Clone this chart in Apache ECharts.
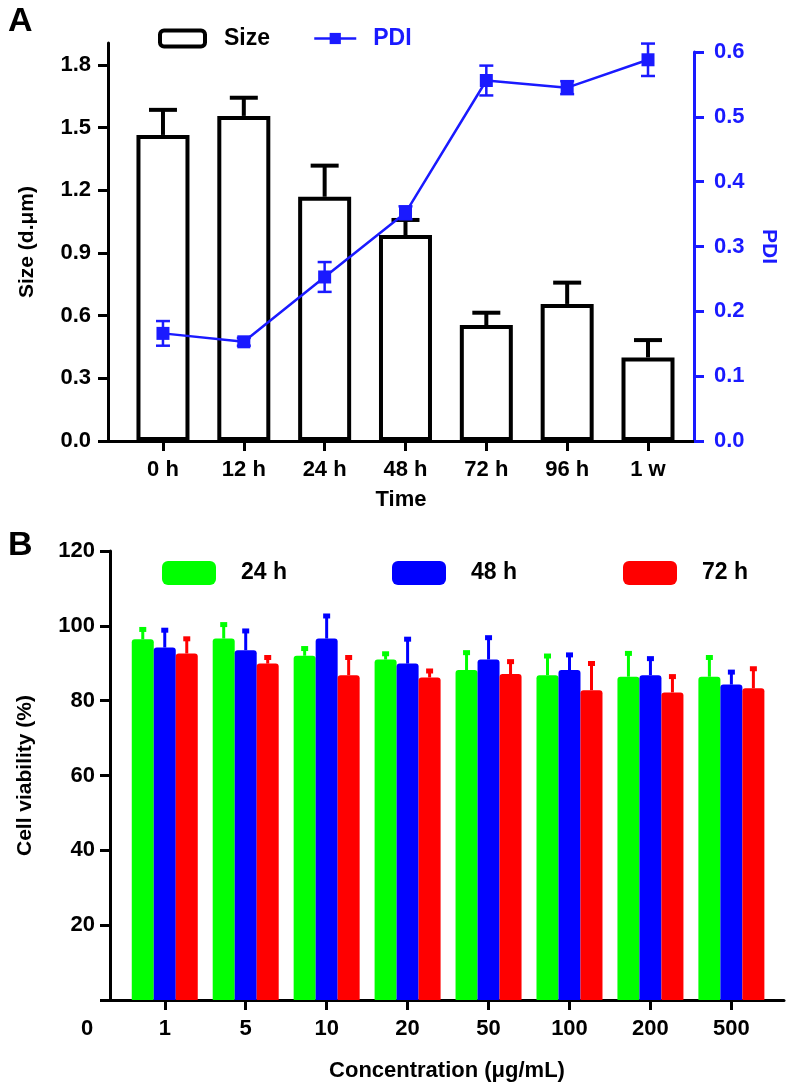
<!DOCTYPE html>
<html><head><meta charset="utf-8">
<script src="https://cdn.jsdelivr.net/npm/echarts@6/dist/echarts.min.js"></script>
<style>html,body{margin:0;padding:0;background:#fff}#c{width:790px;height:1088px}</style>
</head><body><div id="c"></div>
<script>
// ---- Panel A data ----
const timeLabels = ['0 h', '12 h', '24 h', '48 h', '72 h', '96 h', '1 w'];
const sizeValues = [1.465, 1.556, 1.169, 0.986, 0.555, 0.656, 0.400];
const sizeErrors = [0.120, 0.087, 0.149, 0.072, 0.059, 0.102, 0.083];
const pdiValues = [0.166, 0.153, 0.253, 0.352, 0.556, 0.545, 0.588];
const pdiErrors = [0.019, 0.006, 0.023, 0.010, 0.023, 0.010, 0.025];
const sizeTicks = [0, 0.3, 0.6, 0.9, 1.2, 1.5, 1.8];
// ---- Panel B data ----
const concTickLabels = ['0', '1', '5', '10', '20', '50', '100', '200', '500'];
const via24 = [96.4, 96.6, 92.0, 91.0, 88.2, 86.8, 86.4, 86.4];
const err24 = [3.3, 4.4, 2.6, 2.2, 5.3, 5.8, 6.9, 5.8];
const via48 = [94.2, 93.5, 96.6, 89.9, 91.0, 88.2, 86.8, 84.3];
const err48 = [5.3, 5.8, 6.7, 7.2, 6.5, 4.7, 5.1, 4.0];
const via72 = [92.6, 89.9, 86.8, 86.2, 87.1, 82.8, 82.2, 83.3];
const err72 = [4.6, 2.3, 5.4, 2.4, 4.0, 7.8, 4.9, 5.9];

const FONT = 'Liberation Sans, Arial, sans-serif';
const BLUE_A = '#1a1aff';
const GREEN = '#00ff00', BLUE = '#0000ff', RED = '#ff0000';
const txt = (size, color) => ({fontFamily: FONT, fontWeight: 'bold', fontSize: size, color: color || '#000'});

const idx = timeLabels.map((_, i) => i);
const cIdx = via24.map((_, i) => i + 1);

function sizeErr(params, api) {
  const x = api.value(0), y = api.value(1), e = api.value(2);
  const p0 = api.coord([x, y]), p1 = api.coord([x, y + e]);
  const hw = 14;
  return {type: 'group', children: [
    {type: 'line', shape: {x1: p0[0], y1: p0[1], x2: p1[0], y2: p1[1]}, style: {stroke: '#000', lineWidth: 4}},
    {type: 'line', shape: {x1: p1[0] - hw, y1: p1[1], x2: p1[0] + hw, y2: p1[1]}, style: {stroke: '#000', lineWidth: 4}}
  ]};
}
function pdiErr(params, api) {
  const x = api.value(0), y = api.value(1), e = api.value(2);
  const pt = api.coord([x, y + e]), pb = api.coord([x, y - e]);
  const hw = 7;
  return {type: 'group', children: [
    {type: 'line', shape: {x1: pt[0], y1: pt[1], x2: pb[0], y2: pb[1]}, style: {stroke: BLUE_A, lineWidth: 2.5}},
    {type: 'line', shape: {x1: pt[0] - hw, y1: pt[1], x2: pt[0] + hw, y2: pt[1]}, style: {stroke: BLUE_A, lineWidth: 2.5}},
    {type: 'line', shape: {x1: pb[0] - hw, y1: pb[1], x2: pb[0] + hw, y2: pb[1]}, style: {stroke: BLUE_A, lineWidth: 2.5}}
  ]};
}
function makeVErr(color, offset) {
  return function (params, api) {
    const x = api.value(0), y = api.value(1), e = api.value(2);
    const p0 = api.coord([x, y]), p1 = api.coord([x, y + e]);
    const cx = p0[0] + offset;
    return {type: 'group', children: [
      {type: 'line', shape: {x1: cx, y1: p0[1], x2: cx, y2: p1[1] + 2}, style: {stroke: color, lineWidth: 3}},
      {type: 'rect', shape: {x: cx - 3.5, y: p1[1], width: 7, height: 5}, style: {fill: color}}
    ]};
  };
}

const axisLineBlack = {show: true, onZero: false, lineStyle: {color: '#000', width: 3}};
const tickBlack = {show: true, length: 10, lineStyle: {color: '#000', width: 3}};

const option = {
  backgroundColor: '#fff',
  animation: false,
  title: [
    {text: 'A', left: 3, top: 0, textStyle: txt(34)},
    {text: 'B', left: 3, top: 524, textStyle: txt(34)}
  ],
  legend: [
    {data: ['Size'], left: 158, top: 27, padding: 0, icon: 'roundRect', itemWidth: 45, itemHeight: 16,
     itemStyle: {color: '#fff', borderColor: '#000', borderWidth: 4},
     textStyle: Object.assign(txt(23), {padding: [0, 0, 0, 14]})},
    {data: ['PDI'], left: 313, top: 27, padding: 0, itemWidth: 42, itemHeight: 14,
     lineStyle: {width: 2.5, color: BLUE_A}, itemStyle: {color: BLUE_A},
     textStyle: Object.assign(txt(23, BLUE_A), {padding: [0, 0, 0, 12]})},
    {data: ['24 h'], left: 162, top: 561, padding: 0, icon: 'roundRect', itemWidth: 54, itemHeight: 24,
     textStyle: Object.assign(txt(23), {padding: [0, 0, 0, 20]})},
    {data: ['48 h'], left: 392, top: 561, padding: 0, icon: 'roundRect', itemWidth: 54, itemHeight: 24,
     textStyle: Object.assign(txt(23), {padding: [0, 0, 0, 20]})},
    {data: ['72 h'], left: 623, top: 561, padding: 0, icon: 'roundRect', itemWidth: 54, itemHeight: 24,
     textStyle: Object.assign(txt(23), {padding: [0, 0, 0, 20]})}
  ],
  grid: [
    {left: 108, right: 96, top: 43, bottom: 647},
    {left: 108, right: 96, top: 52, bottom: 647},
    {left: 110, right: 6, top: 551, bottom: 88},
    {left: 77, width: 20, top: 551, bottom: 88}
  ],
  xAxis: [
    {gridIndex: 0, type: 'value', min: -0.680, max: 6.569,
     axisLine: axisLineBlack, axisTick: Object.assign({customValues: idx}, tickBlack),
     axisLabel: Object.assign({customValues: idx, margin: 18, formatter: v => timeLabels[v]}, txt(22)),
     splitLine: {show: false},
     name: 'Time', nameLocation: 'middle', nameGap: 48, nameTextStyle: txt(22)},
    {gridIndex: 1, type: 'value', min: -0.680, max: 6.569, show: false, axisLine: {onZero: false}},
    {gridIndex: 2, type: 'value', min: 0.3235, max: 8.65,
     axisLine: axisLineBlack, axisTick: Object.assign({customValues: cIdx}, tickBlack),
     axisLabel: Object.assign({customValues: cIdx, margin: 18, formatter: v => concTickLabels[v]}, txt(22)),
     splitLine: {show: false},
     name: 'Concentration (μg/mL)', nameLocation: 'middle', nameGap: 60, nameTextStyle: txt(22)},
    {gridIndex: 3, type: 'value', min: -0.5, max: 0.5,
     axisLine: {show: false, onZero: false}, axisTick: {show: false}, splitLine: {show: false},
     axisLabel: Object.assign({customValues: [0], margin: 18, formatter: v => concTickLabels[v]}, txt(22))}
  ],
  yAxis: [
    {gridIndex: 0, type: 'value', min: 0, max: 1.905,
     axisLine: axisLineBlack, axisTick: Object.assign({customValues: sizeTicks}, tickBlack),
     axisLabel: Object.assign({customValues: sizeTicks, margin: 17, formatter: v => v.toFixed(1)}, txt(22)),
     splitLine: {show: false},
     name: 'Size (d.μm)', nameLocation: 'middle', nameGap: 70, nameRotate: 90, nameTextStyle: txt(21)},
    {gridIndex: 1, type: 'value', position: 'right', min: 0, max: 0.6, interval: 0.1,
     axisLine: {show: true, onZero: false, lineStyle: {color: BLUE_A, width: 3}},
     axisTick: {show: true, length: 10, lineStyle: {color: BLUE_A, width: 3}},
     axisLabel: Object.assign({margin: 20, formatter: v => v.toFixed(1)}, txt(22, BLUE_A)),
     splitLine: {show: false},
     name: 'PDI', nameLocation: 'middle', nameGap: 64, nameRotate: -90, nameTextStyle: txt(21, BLUE_A)},
    {gridIndex: 2, type: 'value', min: 0, max: 120, interval: 20,
     axisLine: axisLineBlack, axisTick: tickBlack,
     axisLabel: Object.assign({margin: 15, formatter: v => v === 0 ? '' : String(v)}, txt(22)),
     splitLine: {show: false},
     name: 'Cell viability (%)', nameLocation: 'middle', nameGap: 74, nameRotate: 90, nameTextStyle: txt(21)},
    {gridIndex: 3, type: 'value', min: 0, max: 120, show: false, axisLine: {onZero: false}}
  ],
  series: [
    {name: 'Size', type: 'bar', xAxisIndex: 0, yAxisIndex: 0, barWidth: 53,
     itemStyle: {color: '#fff', borderColor: '#000', borderWidth: 4},
     data: sizeValues.map((v, i) => [i, v])},
    {name: 'SizeErr', type: 'custom', xAxisIndex: 0, yAxisIndex: 0, z: 3, renderItem: sizeErr,
     data: sizeValues.map((v, i) => [i, v, sizeErrors[i]])},
    {name: 'PDIErr', type: 'custom', xAxisIndex: 1, yAxisIndex: 1, z: 4, renderItem: pdiErr,
     data: pdiValues.map((v, i) => [i, v, pdiErrors[i]])},
    {name: 'PDI', type: 'line', xAxisIndex: 1, yAxisIndex: 1, z: 5, symbol: 'rect', symbolSize: 13,
     lineStyle: {color: BLUE_A, width: 2.5}, itemStyle: {color: BLUE_A},
     data: pdiValues.map((v, i) => [i, v])},
    {name: '24 h', type: 'bar', xAxisIndex: 2, yAxisIndex: 2, barWidth: 22, barGap: '0%',
     itemStyle: {color: GREEN, borderRadius: [3, 3, 0, 0]}, data: via24.map((v, i) => [i + 1, v])},
    {name: '48 h', type: 'bar', xAxisIndex: 2, yAxisIndex: 2, barWidth: 22, barGap: '0%',
     itemStyle: {color: BLUE, borderRadius: [3, 3, 0, 0]}, data: via48.map((v, i) => [i + 1, v])},
    {name: '72 h', type: 'bar', xAxisIndex: 2, yAxisIndex: 2, barWidth: 22, barGap: '0%',
     itemStyle: {color: RED, borderRadius: [3, 3, 0, 0]}, data: via72.map((v, i) => [i + 1, v])},
    {type: 'custom', xAxisIndex: 2, yAxisIndex: 2, z: 1, renderItem: makeVErr(GREEN, -22),
     data: via24.map((v, i) => [i + 1, v, err24[i]])},
    {type: 'custom', xAxisIndex: 2, yAxisIndex: 2, z: 1, renderItem: makeVErr(BLUE, 0),
     data: via48.map((v, i) => [i + 1, v, err48[i]])},
    {type: 'custom', xAxisIndex: 2, yAxisIndex: 2, z: 1, renderItem: makeVErr(RED, 22),
     data: via72.map((v, i) => [i + 1, v, err72[i]])}
  ]
};
const chart = echarts.init(document.getElementById('c'), null, {renderer: 'canvas'});
chart.setOption(option);
</script></body></html>
